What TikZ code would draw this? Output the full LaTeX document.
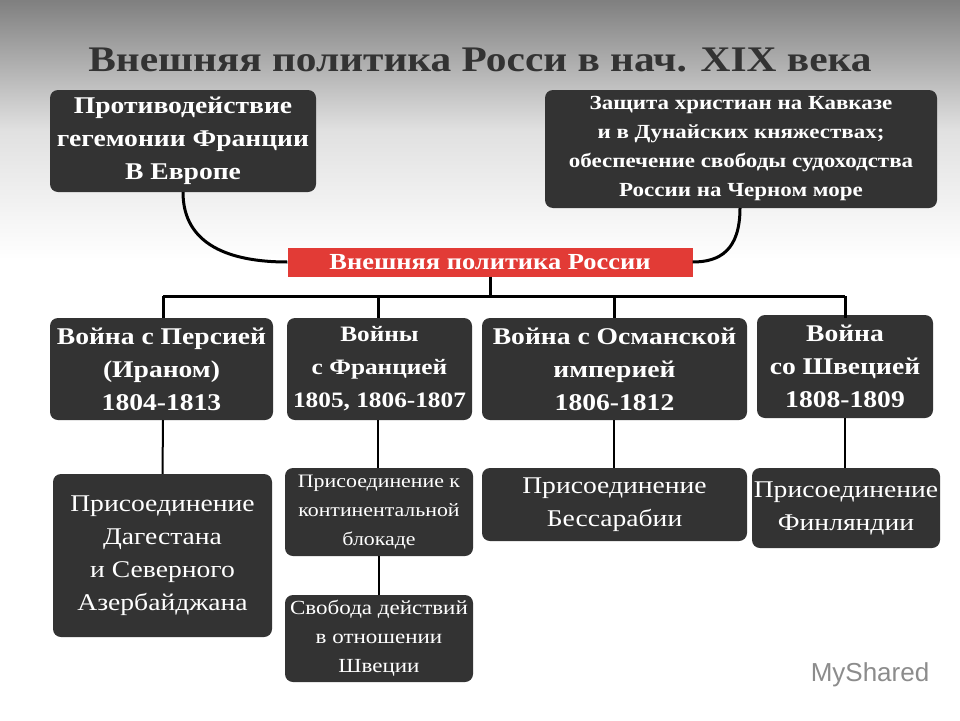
\documentclass[tikz,border=0pt]{standalone}
\usepackage{fontspec}
\setmainfont{Liberation Serif}[FakeStretch=1.15]
\setsansfont{Liberation Sans}
\begin{document}
\begin{tikzpicture}[x=1pt,y=-1pt,
 box/.style={fill=boxc,rounded corners=8pt,text=white,align=center,inner sep=0pt,font=\bfseries\fontsize{24}{33}\selectfont},
 rbox/.style={box,font=\fontsize{24}{33}\selectfont},
 ln/.style={line width=3pt,black}]
\definecolor{boxc}{HTML}{333333}
\definecolor{redc}{HTML}{E23B36}
\shade[top color=black!50,bottom color=white,middle color=black!12] (0,0) rectangle (960,260);
\fill[white] (0,260) rectangle (960,720);
\useasboundingbox (0,0) rectangle (960,720);
\node[font=\bfseries\fontsize{36}{40}\selectfont,text=black!80] (title) at (480,60) {Внешняя политика Росси в нач. XIX века};
\node[box,minimum width=266pt,minimum height=102pt] (a) at (183,141) {Противодействие\\гегемонии Франции\\В Европе};
\node[box,minimum width=392pt,minimum height=118pt,font=\bfseries\fontsize{20}{29}\selectfont] (b) at (741,149) {Защита христиан на Кавказе\\и в Дунайских княжествах;\\обеспечение свободы судоходства\\России на Черном море};
\node[fill=redc,minimum width=405pt,minimum height=29pt,inner sep=0pt,text=white,font=\bfseries\fontsize{23}{24}\selectfont] (r) at (490,262) {Внешняя политика России};
\draw[ln] (a.south) .. controls (183,245) and (230,262) .. (r.west);
\draw[ln] (740,208) .. controls (740,250) and (720,262) .. (r.east);
\coordinate (bl) at (163,296); \coordinate (br) at (845,296);
\draw[ln] (bl) -- (br);
\draw[ln] (r.south) -- (490,296);
\node[box,minimum width=223pt,minimum height=102pt] (c1) at (161.5,369) {Война с Персией\\(Ираном)\\1804-1813};
\node[box,minimum width=185pt,minimum height=102pt,font=\bfseries\fontsize{22}{33}\selectfont] (c2) at (379.5,369) {Войны\\с Францией\\1805, 1806-1807};
\node[box,minimum width=265pt,minimum height=102pt] (c3) at (614.5,369) {Война с Османской\\империей\\1806-1812};
\node[box,minimum width=176pt,minimum height=103pt] (c4) at (845,366.5) {Война\\со Швецией\\1808-1809};
\foreach \x/\n in {163/c1,378/c2,614/c3,845/c4} \draw[ln] (\x,296) -- (\x,318);
\node[rbox,minimum width=219pt,minimum height=163pt] (d1) at (162.5,555.5) {Присоединение\\Дагестана\\и Северного\\Азербайджана};
\node[rbox,minimum width=188pt,minimum height=88pt,font=\fontsize{19}{29}\selectfont] (d2) at (379,512) {Присоединение к\\континентальной\\блокаде};
\node[rbox,minimum width=265pt,minimum height=73pt] (d3) at (614.5,504.5) {Присоединение\\Бессарабии};
\node[rbox,minimum width=188pt,minimum height=80pt] (d4) at (846,508) {Присоединение\\Финляндии};
\node[rbox,minimum width=188pt,minimum height=87pt,font=\fontsize{20}{29}\selectfont] (e) at (379,638.5) {Свобода действий\\в отношении\\Швеции};
\draw[line width=2pt] (163,420) -- (d1.north);
\draw[line width=2pt] (378,420) -- (378,468);
\draw[line width=2pt] (614,420) -- (614,468);
\draw[line width=2pt] (845,418) -- (845,468);
\draw[line width=2pt] (d2.south) -- (e.north);
\node[font=\sffamily\fontsize{26}{30}\selectfont,text=black!45] (logo) at (870,675) {MyShared};
\end{tikzpicture}
\end{document}
